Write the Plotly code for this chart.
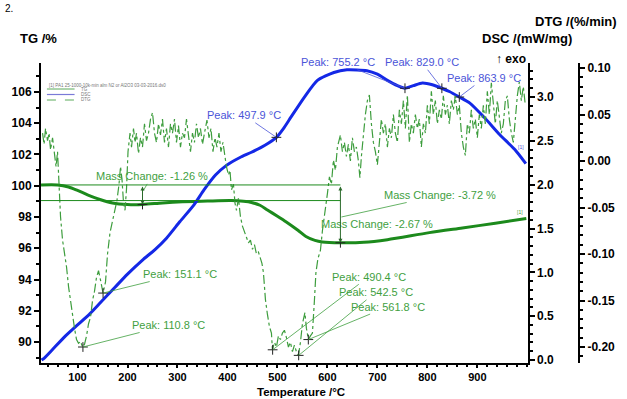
import plotly.graph_objects as go

# ---------------- data ----------------
tg_temp = [27, 60, 82, 100, 120, 145, 170, 200, 230, 270, 310, 360, 408, 432, 448, 465, 480, 500, 517,
           541, 557, 575, 590, 626, 673, 720, 804, 870, 936, 998]
tg_vals = [100.05, 100.05, 99.92, 99.7, 99.42, 99.12, 98.9, 98.8, 98.8, 98.9, 98.97, 99.02, 99.05, 99.0,
           98.93, 98.75, 98.45, 98.05, 97.7, 97.15, 96.75, 96.5, 96.4, 96.35, 96.38, 96.55, 97.0, 97.3,
           97.6, 97.9]

dsc_temp = [28, 33, 50, 75, 100, 125, 145, 175, 200, 230, 255, 278, 305, 333, 353, 376, 398, 425, 448,
            475, 498, 512, 527, 554, 580, 613, 639, 679, 700, 720, 740, 755, 772, 790, 810, 829, 845,
            864, 885, 915, 945, 975, 997]
dsc_vals = [0.00, 0.02, 0.12, 0.27, 0.40, 0.53, 0.65, 0.83, 0.98, 1.14, 1.26, 1.39, 1.58, 1.77, 1.94,
            2.11, 2.22, 2.31, 2.37, 2.45, 2.54, 2.64, 2.77, 3.00, 3.19, 3.28, 3.31, 3.30, 3.26, 3.19,
            3.13, 3.10, 3.13, 3.16, 3.14, 3.10, 3.06, 3.00, 2.93, 2.76, 2.57, 2.40, 2.24]

dtg_temp = [30, 33, 36, 40, 43, 46, 50, 54, 57, 60, 63, 66, 70, 74, 78, 82, 86, 90, 94, 98, 102, 106,
            110, 114, 118, 122, 126, 130, 134, 138, 142, 146, 151, 156, 160, 165, 170, 175, 179, 183,
            186, 189, 192, 195, 198, 201, 205, 208, 212, 215, 218, 222, 226, 230, 234, 238, 242, 246,
            250, 254, 258, 262, 266, 270, 274, 278, 282, 286, 290, 294, 298, 302, 306, 310, 314, 318,
            322, 326, 330, 334, 338, 342, 346, 350, 354, 359, 363, 367, 371, 375, 379, 383, 387, 391,
            395, 398, 402, 405, 408, 412, 415, 418, 422, 426, 430, 434, 438, 442, 446, 450, 454, 458,
            462, 465, 469, 472, 476, 480, 484, 488, 490, 494, 498, 502, 506, 510, 514, 518, 522, 526,
            530, 534, 538, 542, 546, 550, 555, 558, 562, 566, 570, 574, 577, 581, 586, 590, 596, 600,
            604, 608, 612, 616, 620, 624, 626, 630, 634, 638, 642, 646, 650, 654, 658, 662, 665, 668,
            672, 676, 680, 684, 688, 692, 696, 700, 704, 708, 712, 716, 720, 724, 728, 732, 736, 740,
            744, 748, 752, 756, 760, 764, 768, 772, 776, 780, 784, 788, 792, 796, 800, 804, 808, 812,
            816, 820, 824, 828, 832, 836, 840, 844, 848, 852, 856, 860, 864, 868, 872, 876, 880, 884,
            888, 892, 896, 900, 904, 908, 912, 916, 920, 924, 928, 932, 936, 940, 944, 948, 952, 956,
            960, 964, 968, 972, 976, 980, 984, 988, 992, 996]
dtg_vals = [0.030, 0.018, 0.035, 0.022, 0.030, 0.012, 0.025, 0.005, -0.006, 0.010, -0.030, -0.060,
            -0.085, -0.100, -0.114, -0.135, -0.150, -0.168, -0.180, -0.192, -0.196, -0.194, -0.200,
            -0.197, -0.188, -0.175, -0.168, -0.150, -0.140, -0.125, -0.118, -0.128, -0.142, -0.130,
            -0.100, -0.077, -0.065, -0.050, -0.042, -0.025, -0.006, -0.020, -0.045, -0.053, -0.030,
            0.010, 0.030, 0.015, 0.035, 0.020, 0.030, 0.008, 0.025, 0.015, 0.040, 0.022, 0.030, 0.045,
            0.052, 0.030, 0.020, 0.040, 0.028, 0.045, 0.020, 0.035, 0.015, 0.040, 0.030, 0.045, 0.020,
            0.038, 0.015, 0.030, 0.025, 0.045, 0.030, 0.010, 0.030, 0.020, 0.040, 0.025, 0.035, 0.018,
            0.030, 0.044, 0.025, 0.035, 0.010, 0.025, 0.015, 0.030, 0.010, 0.020, 0.005, -0.006,
            -0.015, -0.010, -0.031, -0.025, -0.045, -0.053, -0.040, -0.060, -0.070, -0.075, -0.082,
            -0.088, -0.085, -0.095, -0.090, -0.100, -0.098, -0.103, -0.110, -0.120, -0.149, -0.165,
            -0.178, -0.185, -0.203, -0.195, -0.200, -0.188, -0.192, -0.185, -0.182, -0.190, -0.200,
            -0.195, -0.205, -0.198, -0.205, -0.209, -0.195, -0.175, -0.163, -0.180, -0.192, -0.188,
            -0.185, -0.150, -0.120, -0.105, -0.096, -0.075, -0.053, -0.035, -0.017, -0.025, 0.001,
            -0.010, 0.015, 0.023, 0.028, 0.010, 0.020, 0.005, 0.018, 0.000, 0.025, 0.010, 0.015, 0.000,
            -0.018, 0.005, 0.030, 0.050, 0.065, 0.071, 0.040, 0.020, 0.010, -0.004, 0.020, 0.045,
            0.030, 0.040, 0.015, 0.035, 0.025, 0.050, 0.030, 0.020, 0.055, 0.040, 0.065, 0.035, 0.071,
            0.020, 0.040, 0.030, 0.050, 0.035, 0.045, 0.015, 0.040, 0.030, 0.060, 0.040, 0.075, 0.050,
            0.065, 0.040, 0.055, 0.045, 0.070, 0.050, 0.060, 0.040, 0.065, 0.055, 0.070, 0.050, 0.060,
            0.030, 0.015, 0.006, 0.040, 0.030, 0.055, 0.035, 0.045, 0.025, 0.050, 0.035, 0.060, 0.040,
            0.075, 0.050, 0.084, 0.060, 0.040, 0.065, 0.050, 0.030, 0.040, 0.065, 0.070, 0.045, 0.030,
            0.020, 0.045, 0.070, 0.085, 0.065, 0.080, 0.060]

dsc_peaks_t = [497.9, 755.2, 829.0, 863.9]
dsc_peaks_v = [2.54, 3.10, 3.10, 3.00]
dtg_peaks_t = [110.8, 151.1, 490.4, 542.5, 561.8]
dtg_peaks_v = [-0.200, -0.142, -0.203, -0.209, -0.192]
tg_step_t = [230, 626]
tg_step_v = [98.8, 96.35]
tg_level_start = 100.05
tg_level_mid = 99.05

x_ticks = [100, 200, 300, 400, 500, 600, 700, 800, 900]
tg_ticks = [90, 92, 94, 96, 98, 100, 102, 104, 106]
dsc_ticks = [0.0, 0.5, 1.0, 1.5, 2.0, 2.5, 3.0]
dtg_ticks = [-0.20, -0.15, -0.10, -0.05, 0.00, 0.05, 0.10]
dtg_ticktext = ["-0.20", "-0.15", "-0.10", "-0.05", "0.00", "0.05", "0.10"]

# ---------------- styles ----------------
FONT = "Liberation Sans, Arial, sans-serif"
TG_C = "#1c8a1c"
DTG_C = "#3d9d3d"
DSC_C = "#1428e6"
LBL_G = "#3f9f3f"
LBL_B = "#4a54d8"
W, H = 627, 399
L, R, T, B = 40, 42, 63, 36
PW, PH = W - L - R, H - T - B


def px(x):
    return (x - L) / PW


def py(y):
    return (H - B - y) / PH


fig = go.Figure()
fig.add_trace(go.Scatter(x=dtg_temp, y=dtg_vals, yaxis="y3", mode="lines",
                         line=dict(color=DTG_C, width=1.2, dash="dashdot"), name="DTG"))
fig.add_trace(go.Scatter(x=tg_temp, y=tg_vals, yaxis="y", mode="lines", line_shape="spline",
                         line=dict(color=TG_C, width=3, smoothing=0.8), name="TG"))
fig.add_trace(go.Scatter(x=dsc_temp, y=dsc_vals, yaxis="y2", mode="lines", line_shape="spline",
                         line=dict(color=DSC_C, width=3, smoothing=0.6), name="DSC"))

mk = dict(symbol="cross-thin", size=7, line=dict(color="#222222", width=1))
fig.add_trace(go.Scatter(x=dsc_peaks_t, y=dsc_peaks_v, yaxis="y2", mode="markers", marker=mk))
fig.add_trace(go.Scatter(x=dtg_peaks_t, y=dtg_peaks_v, yaxis="y3", mode="markers", marker=mk))
fig.add_trace(go.Scatter(x=tg_step_t, y=tg_step_v, yaxis="y", mode="markers", marker=mk))

shapes = []
# mass change reference lines
for lv in (tg_level_start, tg_level_mid):
    shapes.append(dict(type="line", xref="x", yref="y", x0=27, x1=tg_step_t[1], y0=lv, y1=lv,
                       line=dict(color=TG_C, width=1)))
# legend lines
shapes.append(dict(type="line", xref="paper", yref="paper", x0=px(46), x1=px(74), y0=py(89), y1=py(89),
                   line=dict(color="#5aaa5a", width=1)))
shapes.append(dict(type="line", xref="paper", yref="paper", x0=px(46), x1=px(74), y0=py(94.5), y1=py(94.5),
                   line=dict(color="#7a7ad8", width=1.2)))
shapes.append(dict(type="line", xref="paper", yref="paper", x0=px(46), x1=px(74), y0=py(100), y1=py(100),
                   line=dict(color="#5aaa5a", width=1, dash="dash")))

ann = []


def txt(x, y, s, size=11, color="black", bold=False, xanchor="center", yanchor="middle"):
    ann.append(dict(x=px(x), y=py(y), xref="paper", yref="paper", text=s, showarrow=False,
                    xanchor=xanchor, yanchor=yanchor,
                    font=dict(family=FONT, size=size, color=color, weight="bold" if bold else "normal")))


def lead(xv, yv, yref, dx, dy, s, color):
    ann.append(dict(x=xv, y=yv, xref="x", yref=yref, ax=dx, ay=dy, text=s, showarrow=True,
                    arrowhead=0, arrowwidth=0.8, arrowcolor=color,
                    font=dict(family=FONT, size=11, color=color)))


# DSC peak labels
lead(dsc_peaks_t[0], dsc_peaks_v[0], "y2", -32, -22, "Peak: 497.9 °C", LBL_B)
lead(dsc_peaks_t[1], dsc_peaks_v[1], "y2", -67, -26, "Peak: 755.2 °C", LBL_B)
lead(dsc_peaks_t[2], dsc_peaks_v[2], "y2", -20, -26, "Peak: 829.0 °C", LBL_B)
lead(dsc_peaks_t[3], dsc_peaks_v[3], "y2", 25, -19, "Peak: 863.9 °C", LBL_B)
# DTG peak labels
lead(dtg_peaks_t[0], dtg_peaks_v[0], "y3", 86, -22, "Peak: 110.8 °C", LBL_G)
lead(dtg_peaks_t[1], dtg_peaks_v[1], "y3", 77, -19, "Peak: 151.1 °C", LBL_G)
lead(dtg_peaks_t[2], dtg_peaks_v[2], "y3", 96, -73, "Peak: 490.4 °C", LBL_G)
lead(dtg_peaks_t[3], dtg_peaks_v[3], "y3", 77, -63, "Peak: 542.5 °C", LBL_G)
lead(dtg_peaks_t[4], dtg_peaks_v[4], "y3", 80, -33, "Peak: 561.8 °C", LBL_G)
# mass change labels
lead(232, 99.7, "y", 8, -14, "Mass Change: -1.26 %", LBL_G)
lead(628, 98.0, "y", 99, -22, "Mass Change: -3.72 %", LBL_G)
txt(380, 224, "Mass Change: -2.67 %", color=LBL_G)

# double arrows for mass change steps
for (xa, y_top, y_bot) in [(tg_step_t[0], tg_level_start, tg_step_v[0]),
                           (tg_step_t[1], tg_level_start, tg_step_v[1])]:
    ann.append(dict(x=xa, y=y_bot, ax=xa, ay=y_top, xref="x", yref="y", axref="x", ayref="y",
                    showarrow=True, arrowhead=2, arrowside="end+start", arrowsize=0.8,
                    arrowwidth=1, arrowcolor="#2a6a2a", text=""))

# axis titles
txt(37, 39, "TG /%", size=13, bold=True)
txt(626, 21, "DTG /(%/min)", size=13, bold=True, xanchor="right")
txt(532, 38, "DSC /(mW/mg)", size=13, bold=True)
txt(516, 59, "↑ <b>exo</b>", size=12)
ann.append(dict(x=px(303), y=py(399), xref="paper", yref="paper", text="Temperature /°C",
                showarrow=False, xanchor="center", yanchor="bottom", borderpad=0,
                font=dict(family=FONT, size=11.5, color="black", weight="bold")))
txt(1, 1, "2.", size=10, xanchor="left", yanchor="top")

# legend text
txt(46, 85, "[1] PA1 25-1000-10k-min alm N2 or Al2O3 03-03-2016.ds0", size=4.5, color="#777777",
    xanchor="left")
txt(78, 89, "TG", size=4.5, color="#777777", xanchor="left")
txt(78, 94.5, "DSC", size=4.5, color="#777777", xanchor="left")
txt(78, 100, "DTG", size=4.5, color="#777777", xanchor="left")
# curve end labels
txt(526, 147, "[1]", size=5, color=LBL_B)
txt(525, 212, "[1]", size=5, color=LBL_G)

tickfont = dict(family=FONT, size=12, color="black", weight="bold")
axis_common = dict(showline=True, linecolor="black", linewidth=2, ticks="outside", ticklen=5,
                   tickwidth=1.5, tickcolor="black", showgrid=False, zeroline=False, tickfont=tickfont)
x_common = dict(axis_common)
x_common["ticklen"] = 3
x_common["tickfont"] = dict(family=FONT, size=11, color="black", weight="bold")

fig.update_layout(
    width=W, height=H, margin=dict(l=L, r=R, t=T, b=B),
    paper_bgcolor="white", plot_bgcolor="white", showlegend=False,
    xaxis=dict(domain=[0, 493 / PW], range=[26.9, 1000.7], tickvals=x_ticks,
               minor=dict(ticks="outside", ticklen=2, dtick=20, tickcolor="black"), **x_common),
    yaxis=dict(range=[88.66, 107.85], tickvals=tg_ticks, side="left", anchor="x",
               minor=dict(ticks="outside", ticklen=3, dtick=1, tickcolor="black"), **axis_common),
    yaxis2=dict(range=[-0.034, 3.388], tickvals=dsc_ticks, tickformat=".1f", side="right",
                overlaying="y", anchor="x",
                minor=dict(ticks="outside", ticklen=3, dtick=0.1, tickcolor="black"), **axis_common),
    yaxis3=dict(range=[-0.2172, 0.1054], tickvals=dtg_ticks, ticktext=dtg_ticktext, side="right",
                overlaying="y", anchor="free", position=1.0,
                minor=dict(ticks="outside", ticklen=3, dtick=0.01, tickcolor="black"), **axis_common),
    shapes=shapes, annotations=ann,
)

fig.write_html("out.html")
